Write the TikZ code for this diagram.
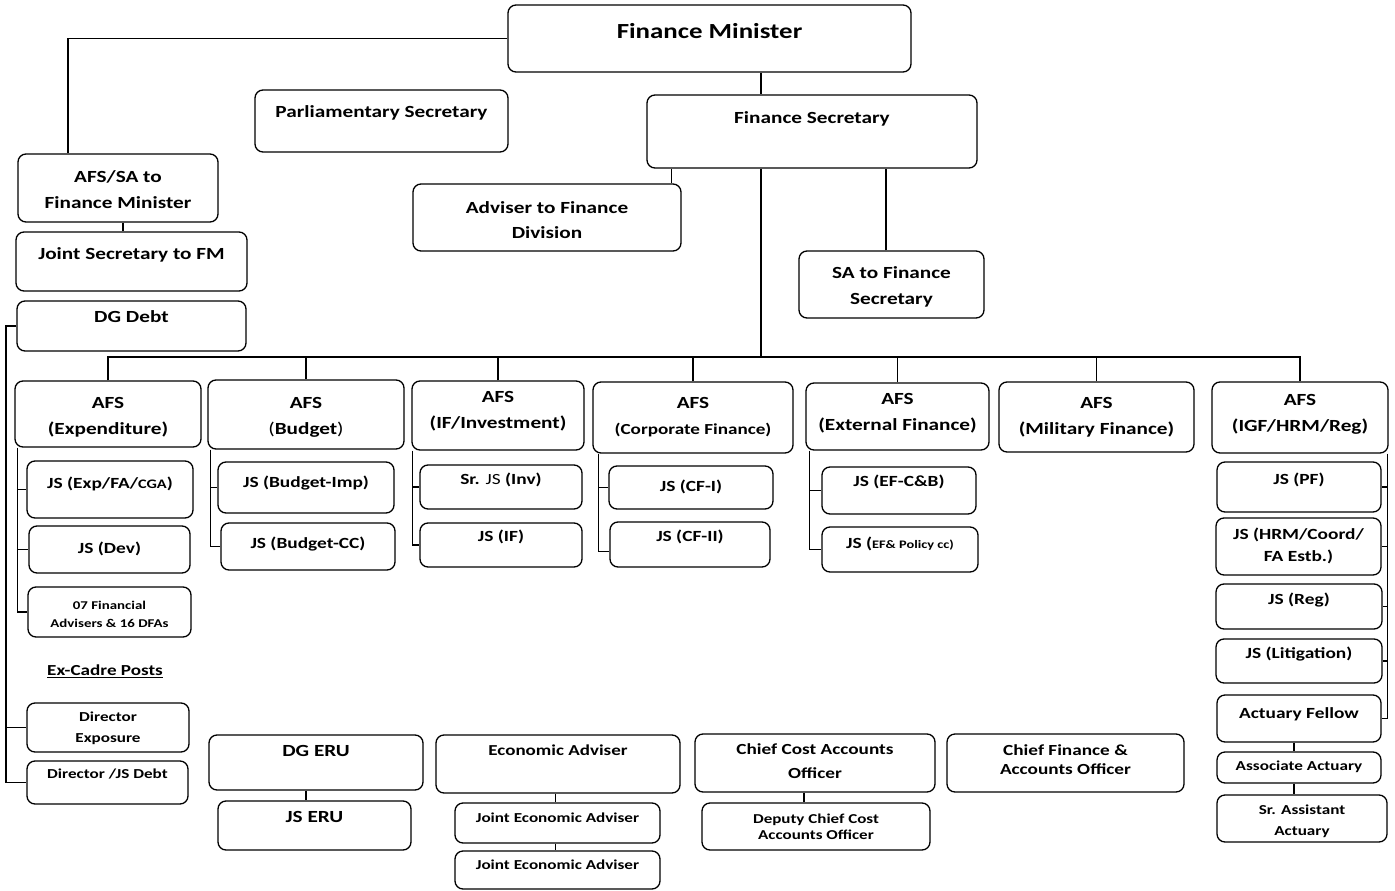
\documentclass[tikz,border=0pt]{standalone}
\usepackage{fontspec}
\setmainfont[FakeStretch=1.25]{Carlito}
\begin{document}
\begin{tikzpicture}[x=1pt,y=-1pt,
  ob/.style={draw, rounded corners=8pt, line width=1.3pt, inner sep=0pt},
  ln/.style={draw, line width=1.2pt},
  tx/.style={inner sep=0pt, align=center, yshift=-1.5pt, font=\bfseries\fontsize{15.5}{21}\selectfont},
  fA/.style={font=\bfseries\fontsize{17}{26}\selectfont},
  fB/.style={font=\bfseries\fontsize{15.5}{22}\selectfont},
  fC/.style={font=\bfseries\fontsize{13.7}{21}\selectfont},
]
\newcommand\obox[8][]{%
  \node[ob, minimum width={#5-#3}, minimum height={#6-#4}] (#2) at ({(#3+#5)/2},{(#4+#6)/2}) {};
  \node[tx,#1] (#2-t) at ({(#3+#5)/2},#7) {#8};}
\fill[white] (0,0) rectangle (1395,891);
\useasboundingbox (0,0) rectangle (1395,891);
% top
\obox[font=\bfseries\fontsize{21.5}{24}\selectfont]{fm}{508}{5}{911}{72}{30}{Finance Minister}
\obox[fA]{ps}{255}{90}{508}{152}{111}{Parliamentary Secretary}
\obox[fA]{fs}{647}{95}{977}{168}{117}{Finance Secretary}
\obox[fA]{afssa}{18}{154}{218}{222}{188}{AFS/SA to\\Finance Minister}
\obox[fA,font=\bfseries\fontsize{17}{25}\selectfont]{adv}{413}{184}{681}{251}{218.5}{Adviser to Finance\\Division}
\obox[fA]{safs}{799}{251}{984}{318}{285}{SA to Finance\\Secretary}
\obox[fA]{jsfm}{16}{232}{247}{291}{253}{Joint Secretary to FM}
\obox[fA]{dgd}{17}{301}{246}{351}{315}{DG Debt}
% AFS row
\obox[fA]{afs1}{15}{381}{201}{447}{416}{AFS\\(Expenditure)}
\obox[fA]{afs2}{208}{380}{404}{449}{415.5}{AFS\\{\mdseries(}Budget{\mdseries)}}
\obox[fA]{afs3}{412}{381}{584}{450}{410}{AFS\\(IF/Investment)}
\obox[fA]{afs4}{593}{382}{793}{453}{415.5}{AFS\\{\fontsize{15.3}{15}\selectfont(Corporate Finance)}}
\obox[fA]{afs5}{806}{383}{989}{450}{411.5}{AFS\\(External Finance)}
\obox[fA]{afs6}{999}{382}{1194}{452}{416}{AFS\\(Military Finance)}
\obox[fA]{afs7}{1212}{382}{1388}{453}{412.5}{AFS\\(IGF/HRM/Reg)}
% Expenditure
\obox{e1}{27}{461}{193}{518}{482}{JS (Exp/FA/{\fontsize{13}{13}\selectfont CGA})}
\obox{e2}{29}{526}{190}{573}{547}{JS (Dev)}
\obox[font=\bfseries\fontsize{11.9}{18}\selectfont]{e3}{28}{587}{191}{637}{613}{07 Financial\\Advisers \& 16 DFAs}
% Budget
\obox{b1}{218}{462}{394}{513}{482}{JS (Budget-Imp)}
\obox{b2}{221}{523}{395}{570}{543}{JS (Budget-CC)}
% IF
\obox{i1}{420}{465}{582}{509}{478}{Sr. {\mdseries JS} (Inv)}
\obox{i2}{420}{523}{582}{567}{535}{JS (IF)}
% Corporate
\obox{c1}{609}{466}{773}{509}{485}{JS (CF-I)}
\obox{c2}{610}{522}{770}{567}{535}{JS (CF-II)}
% External
\obox{x1}{822}{467}{976}{514}{480}{JS (EF-C\&B)}
\obox{x2}{822}{527}{978}{572}{542}{JS ({\fontsize{11.5}{12}\selectfont EF\& Policy cc)}}
% IGF
\obox{g1}{1217}{462}{1381}{512}{478}{JS (PF)}
\obox[fB]{g2}{1216}{518}{1381}{575}{544}{JS (HRM/Coord/\\FA Estb.)}
\obox{g3}{1216}{584}{1382}{629}{599}{JS (Reg)}
\obox{g4}{1216}{639}{1382}{683}{653}{JS (Litigation)}
\obox{g5}{1217}{695}{1381}{742}{713}{Actuary Fellow}
\obox[fC]{g6}{1217}{752}{1381}{783}{765}{Associate Actuary}
\obox[fC]{g7}{1217}{795}{1387}{842}{819.5}{Sr. Assistant\\Actuary}
% Ex-cadre
\node[tx, font=\bfseries\fontsize{15.3}{18}\selectfont] (exc) at (105,670) {\underline{Ex-Cadre Posts}};
\obox[fC]{dirx}{27}{703}{189}{752}{726.5}{Director\\Exposure}
\obox[fC]{dirjs}{27}{761}{188}{804}{772}{Director /JS Debt}
% bottom row
\obox[fA]{dgeru}{209}{735}{423}{790}{749}{DG ERU}
\obox[fA]{jseru}{218}{801}{411}{850}{815}{JS ERU}
\obox[font=\bfseries\fontsize{15.2}{20}\selectfont]{ea}{436}{735}{680}{793}{749}{Economic Adviser}
\obox[font=\bfseries\fontsize{13.7}{16}\selectfont]{jea1}{455}{803}{660}{843}{816}{Joint Economic Adviser}
\obox[font=\bfseries\fontsize{13.7}{16}\selectfont]{jea2}{455}{851}{660}{889}{863}{Joint Economic Adviser}
\obox[font=\bfseries\fontsize{15.4}{24}\selectfont]{ccao}{695}{734}{935}{792}{760}{Chief Cost Accounts\\Officer}
\obox[font=\bfseries\fontsize{13.6}{16}\selectfont]{dccao}{702}{803}{930}{850}{825}{Deputy Chief Cost\\Accounts Officer}
\obox[font=\bfseries\fontsize{15.4}{19}\selectfont]{cfao}{947}{734}{1184}{792}{758.5}{Chief Finance \&\\Accounts Officer}
% connectors top
\coordinate (bus) at (761,357);
\coordinate (kfm) at ([xshift=-50pt]afssa.north);
\draw[ln] (fm.west) -| (kfm);
\coordinate (kas) at ([xshift=5pt]afssa.south);
\draw[ln] (kas) -- (kas |- jsfm.north);
\draw[ln] (fm.south -| bus) -- (fs.north -| bus);
\coordinate (kadv) at ([xshift=-10pt]adv.north east);
\draw[ln] (kadv) -- (kadv |- fs.south);
\coordinate (ksa) at ([xshift=-5.5pt]safs.north);
\draw[ln] (ksa) -- (ksa |- fs.south);
\draw[ln] (fs.south -| bus) -- (bus);
\draw[ln] (afs1.north) |- (bus) -| (afs7.north);
\foreach \n in {afs2,afs3,afs4,afs5,afs6} \draw[ln] (\n.north) -- (\n.north |- bus);
% columns
\coordinate (k1) at ([xshift=3pt]afs1.south west);
\draw[ln] (k1) |- (e3.west);
\draw[ln] (k1 |- e1.west) -- (e1.west);
\draw[ln] (k1 |- e2.west) -- (e2.west);
\coordinate (k2) at ([xshift=3pt]afs2.south west);
\draw[ln] (k2) |- (b2.west);
\draw[ln] (k2 |- b1.west) -- (b1.west);
\coordinate (k3) at ([xshift=1pt]afs3.south west);
\draw[ln] (k3) |- (i2.west);
\draw[ln] (k3 |- i1.west) -- (i1.west);
\coordinate (k4) at ([xshift=6pt]afs4.south west);
\coordinate (k4b) at ([yshift=-7pt]c2.west);
\draw[ln] (k4) |- (k4b);
\draw[ln] (k4 |- c1.west) -- (c1.west);
\coordinate (k5) at ([xshift=4pt]afs5.south west);
\draw[ln] (k5) |- (x2.west);
\draw[ln] (k5 |- x1.west) -- (x1.west);
\coordinate (k7) at ([xshift=-1pt]afs7.south east);
\draw[ln] (k7) |- (g5.east);
\foreach \n in {g1,g2,g3,g4} \draw[ln] (k7 |- \n.east) -- (\n.east);
\coordinate (ka) at ([xshift=-5pt]g5.south);
\draw[ln] (ka) -- (ka |- g6.north);
\draw[ln] (ka |- g6.south) -- (ka |- g7.north);
% left debt line
\coordinate (lx) at (6,0);
\draw[ln] (dgd.west) -| (lx |- dirjs.west) -- (dirjs.west);
\draw[ln] (lx |- dirx.west) -- (dirx.west);
% bottom connectors
\coordinate (ke) at ([xshift=-10pt]dgeru.south);
\draw[ln] (ke) -- (ke |- jseru.north);
\coordinate (kj) at ([xshift=-2.5pt]ea.south);
\draw[ln] (kj) -- (kj |- jea1.north);
\draw[ln] (kj |- jea1.south) -- (kj |- jea2.north);
\coordinate (kc) at ([xshift=-11pt]ccao.south);
\draw[ln] (kc) -- (kc |- dccao.north);
\end{tikzpicture}
\end{document}
